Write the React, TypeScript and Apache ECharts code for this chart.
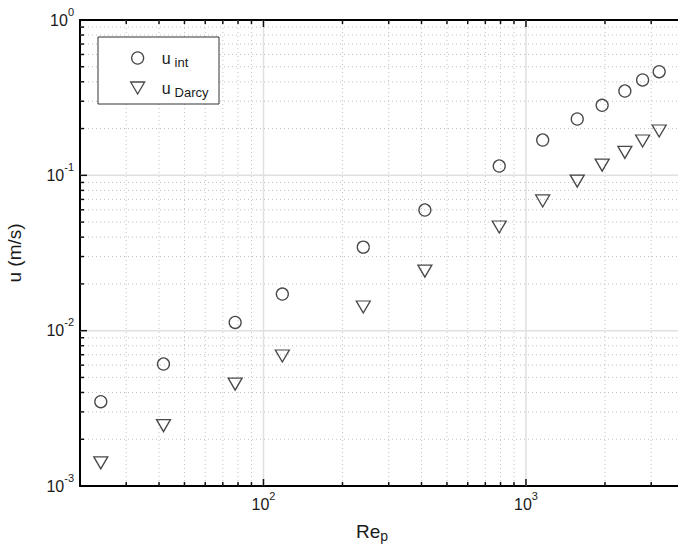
import React, { useEffect, useRef } from 'react';
import * as echarts from 'echarts';

// ---- data ----
const RE_P = [24, 41.6, 78, 118, 240, 412, 791, 1158, 1568, 1951, 2381, 2782, 3217];
const U_INT = [0.00349, 0.0061, 0.0113, 0.0172, 0.0345, 0.0598, 0.1148, 0.1688, 0.2305, 0.2823, 0.349, 0.411, 0.4647];
const U_DARCY = [0.00141, 0.00245, 0.00453, 0.00687, 0.0142, 0.0242, 0.0465, 0.0684, 0.0919, 0.1165, 0.1407, 0.1663, 0.193];

const X_MIN = 20;
const X_MAX = 4000;
const Y_MIN = 0.001;
const Y_MAX = 1;

const X_MAJOR = [100, 1000];
const X_MINOR = [30, 40, 50, 60, 70, 80, 90, 200, 300, 400, 500, 600, 700, 800, 900, 2000, 3000];
const Y_MAJOR = [0.01, 0.1];
const Y_MINOR = [
  0.002, 0.003, 0.004, 0.005, 0.006, 0.007, 0.008, 0.009,
  0.02, 0.03, 0.04, 0.05, 0.06, 0.07, 0.08, 0.09,
  0.2, 0.3, 0.4, 0.5, 0.6, 0.7, 0.8, 0.9,
];

const SERIES_NAMES = ['u_int', 'u_Darcy'];
const X_NAME = ['Re', 'p'];
const Y_NAME = 'u (m/s)';

const FONT = 'Liberation Sans, Arial, Helvetica, sans-serif';
const TRI = 'path://M0,0L14,0L7,12Z';

function powLabel(v: number): string {
  const lg = Math.log10(v);
  const e = Math.round(lg);
  if (Math.abs(lg - e) > 1e-6) return '';
  return `{b|10}{s|${e}}`;
}

const powRich = {
  b: { fontSize: 16, fontFamily: FONT, color: '#1a1a1a' },
  s: { fontSize: 11, fontFamily: FONT, color: '#1a1a1a', padding: [0, 0, 17, 0] },
};

export default function App() {
  const ref = useRef<HTMLDivElement>(null);
  useEffect(() => {
    if (!ref.current) return;
    const chart = echarts.init(ref.current, undefined, { renderer: 'svg' });

    const xGrid = (major: boolean) => (params: any, api: any) => {
      const v = api.value(0) as number;
      const cs = params.coordSys;
      const x = api.coord([v, Y_MIN])[0];
      const top = cs.y;
      const bottom = cs.y + cs.height;
      const tl = major ? 7 : 4;
      return {
        type: 'group',
        children: [
          {
            type: 'line',
            shape: { x1: x, y1: top, x2: x, y2: bottom },
            style: major
              ? { stroke: '#e0e0e0', lineWidth: 1.5 }
              : { stroke: '#c2c2c2', lineWidth: 1, lineDash: [1, 3] },
          },
          { type: 'line', shape: { x1: x, y1: bottom, x2: x, y2: bottom - tl }, style: { stroke: '#111', lineWidth: 1.5 } },
          { type: 'line', shape: { x1: x, y1: top, x2: x, y2: top + tl }, style: { stroke: '#111', lineWidth: 1.5 } },
        ],
      };
    };
    const yGrid = (major: boolean) => (params: any, api: any) => {
      const v = api.value(1) as number;
      const cs = params.coordSys;
      const y = api.coord([X_MIN, v])[1];
      const left = cs.x;
      const right = cs.x + cs.width;
      const tl = major ? 7 : 4;
      return {
        type: 'group',
        children: [
          {
            type: 'line',
            shape: { x1: left, y1: y, x2: right, y2: y },
            style: major
              ? { stroke: '#e0e0e0', lineWidth: 1.5 }
              : { stroke: '#c2c2c2', lineWidth: 1, lineDash: [1, 3] },
          },
          { type: 'line', shape: { x1: left, y1: y, x2: left + tl, y2: y }, style: { stroke: '#111', lineWidth: 1.5 } },
        ],
      };
    };

    const markerStyle = { color: 'transparent', borderColor: '#1a1a1a', borderWidth: 1.3 };

    chart.setOption({
      animation: false,
      backgroundColor: '#fff',
      grid: { left: 80, top: 20, right: 16, bottom: 62, containLabel: false, outerBoundsMode: 'none' },
      graphic: [
        {
          type: 'rect',
          z: 3,
          silent: true,
          shape: { x: 98, y: 37, width: 121, height: 67 },
          style: { fill: '#fff', stroke: '#333', lineWidth: 1 },
        },
      ],
      xAxis: [
        {
          type: 'log',
          logBase: 10,
          min: X_MIN,
          max: X_MAX,
          position: 'bottom',
          name: `{b|${X_NAME[0]}}{sub|${X_NAME[1]}}`,
          nameLocation: 'middle',
          nameGap: 33,
          nameTextStyle: {
            padding: [0, 20, 0, 0],
            rich: {
              b: { fontSize: 19, fontFamily: FONT, color: '#1a1a1a' },
              sub: { fontSize: 14, fontFamily: FONT, color: '#1a1a1a', padding: [10, 0, 0, 0] },
            },
          },
          axisLine: { show: true, onZero: false, lineStyle: { color: '#000', width: 2 } },
          axisTick: { show: false },
          splitLine: { show: false },
          axisLabel: { margin: 4, formatter: powLabel, rich: powRich, showMinLabel: true, showMaxLabel: true, hideOverlap: false },
        },
        {
          type: 'log',
          logBase: 10,
          min: X_MIN,
          max: X_MAX,
          position: 'top',
          axisLine: { show: true, onZero: false, lineStyle: { color: '#000', width: 2 } },
          axisTick: { show: false },
          splitLine: { show: false },
          axisLabel: { show: false },
        },
      ],
      yAxis: {
        type: 'log',
        logBase: 10,
        min: Y_MIN,
        max: Y_MAX,
        name: Y_NAME,
        nameLocation: 'middle',
        nameGap: 56,
        nameTextStyle: { fontSize: 19, fontFamily: FONT, color: '#1a1a1a' },
        axisLine: { show: true, onZero: false, lineStyle: { color: '#000', width: 2 } },
        axisTick: { show: false },
        splitLine: { show: false },
        axisLabel: { margin: 6, formatter: powLabel, rich: powRich, hideOverlap: false },
      },
      legend: {
        orient: 'vertical',
        left: 130,
        top: 50,
        z: 4,
        padding: 0,
        itemGap: 11,
        itemWidth: 38,
        itemHeight: 12,
        selectedMode: false,
        itemStyle: { color: 'transparent', borderColor: '#1a1a1a', borderWidth: 1.3 },
        data: [
          { name: SERIES_NAMES[0], icon: 'circle' },
          { name: SERIES_NAMES[1], icon: TRI },
        ],
        formatter: (name: string) => {
          const [b, s] = name.split('_');
          return `{b|${b}}{sub|${s}}`;
        },
        textStyle: {
          rich: {
            b: { fontSize: 16, fontFamily: FONT, color: '#1a1a1a' },
            sub: { fontSize: 13, fontFamily: FONT, color: '#1a1a1a', padding: [9, 0, 0, 4] },
          },
        },
      },
      series: [
        { type: 'custom', name: 'xminor', silent: true, z: 1, renderItem: xGrid(false), data: X_MINOR.map((v) => [v, Y_MIN]) },
        { type: 'custom', name: 'xmajor', silent: true, z: 1, renderItem: xGrid(true), data: X_MAJOR.map((v) => [v, Y_MIN]) },
        { type: 'custom', name: 'yminor', silent: true, z: 1, renderItem: yGrid(false), data: Y_MINOR.map((v) => [X_MIN, v]) },
        { type: 'custom', name: 'ymajor', silent: true, z: 1, renderItem: yGrid(true), data: Y_MAJOR.map((v) => [X_MIN, v]) },
        {
          type: 'scatter',
          name: SERIES_NAMES[0],
          z: 5,
          symbol: 'circle',
          symbolSize: 12,
          itemStyle: markerStyle,
          emphasis: { disabled: true },
          data: RE_P.map((x, i) => [x, U_INT[i]]),
        },
        {
          type: 'scatter',
          name: SERIES_NAMES[1],
          z: 5,
          symbol: TRI,
          symbolSize: [14, 12],
          itemStyle: markerStyle,
          emphasis: { disabled: true },
          data: RE_P.map((x, i) => [x, U_DARCY[i]]),
        },
      ],
    });
    return () => chart.dispose();
  }, []);

  return (
    <div style={{ position: 'absolute', left: 0, top: 0, width: 678, height: 548, overflow: 'hidden', background: '#fff' }}>
      <div ref={ref} style={{ width: 700, height: 548 }} />
    </div>
  );
}
